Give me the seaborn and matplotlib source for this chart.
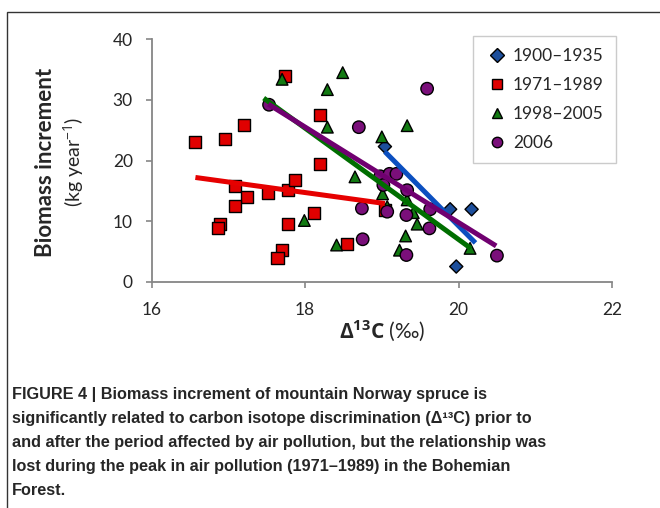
import numpy as np
import pandas as pd
import matplotlib
matplotlib.use("Agg")
import matplotlib.pyplot as plt
from matplotlib.patches import Rectangle
import seaborn as sns

# values (delta 13C in per mil, biomass increment in kg/year)
periods = ["1900\u20131935", "1971\u20131989", "1998\u20132005", "2006"]

x_1900 = [19.04, 19.89, 20.17, 19.97]
y_1900 = [22.3, 11.95, 11.95, 2.5]

x_1971 = [16.57, 16.96, 17.20, 17.09, 17.24, 17.09, 16.89, 16.86, 17.52, 17.78,
          17.87, 17.78, 17.70, 17.64, 17.74, 18.20, 18.20, 18.11, 18.54, 19.04]
y_1971 = [23.0, 23.5, 25.9, 15.85, 14.0, 12.5, 9.6, 8.8, 14.6, 15.1,
          16.8, 9.6, 5.2, 3.85, 33.9, 27.5, 19.5, 11.4, 6.2, 11.8]

x_1998 = [17.70, 18.29, 18.49, 18.29, 19.00, 19.33, 18.65, 17.99, 18.41,
          19.01, 19.07, 19.33, 19.41, 19.46, 19.31, 19.23, 20.15]
y_1998 = [33.4, 31.7, 34.5, 25.5, 23.9, 25.75, 17.3, 10.1, 6.05,
          14.5, 12.4, 13.5, 11.4, 9.5, 7.55, 5.2, 5.5]

x_2006 = [17.53, 18.70, 19.59, 18.98, 19.10, 19.19, 19.02, 19.33, 18.74, 19.07,
          19.32, 19.63, 19.62, 18.75, 19.32, 20.50]
y_2006 = [29.2, 25.5, 31.85, 17.4, 17.8, 17.8, 15.95, 15.1, 12.1, 11.55,
          11.0, 11.95, 8.8, 7.0, 4.4, 4.3]

# linear trend lines as drawn in the figure (start / end)
trend_x_1900 = [19.04, 20.22]
trend_y_1900 = [21.45, 6.4]
trend_x_1971 = [16.57, 19.04]
trend_y_1971 = [17.2, 12.9]
trend_x_1998 = [17.46, 20.16]
trend_y_1998 = [30.3, 5.5]
trend_x_2006 = [17.52, 20.49]
trend_y_2006 = [29.3, 5.9]

x_ticks = [16, 18, 20, 22]
y_ticks = [0, 10, 20, 30, 40]

caption = ("FIGURE 4 | Biomass increment of mountain Norway spruce is\n"
           "significantly related to carbon isotope discrimination (\u0394\u00b9\u00b3C) prior to\n"
           "and after the period affected by air pollution, but the relationship was\n"
           "lost during the peak in air pollution (1971\u20131989) in the Bohemian\n"
           "Forest.")

frames = []
for name, xs, ys in zip(periods, [x_1900, x_1971, x_1998, x_2006],
                        [y_1900, y_1971, y_1998, y_2006]):
    frames.append(pd.DataFrame({"d13c": xs, "biomass": ys, "period": name}))
df = pd.concat(frames, ignore_index=True)

trends = [(trend_x_1900, trend_y_1900), (trend_x_1971, trend_y_1971),
          (trend_x_1998, trend_y_1998), (trend_x_2006, trend_y_2006)]

marker_col = {periods[0]: "#1d4f9c", periods[1]: "#e00000",
              periods[2]: "#127a12", periods[3]: "#7a0f7a"}
line_col = {periods[0]: "#0b4fc0", periods[1]: "#e60000",
            periods[2]: "#006e00", periods[3]: "#700070"}
markers = {periods[0]: "D", periods[1]: "s", periods[2]: "^", periods[3]: "o"}
sizes = {periods[0]: 45, periods[1]: 75, periods[2]: 70, periods[3]: 80}

sns.set_style("ticks")
plt.rcParams["font.family"] = ["Lato", "DejaVu Sans"]
plt.rcParams["mathtext.fontset"] = "custom"
plt.rcParams["mathtext.rm"] = "Open Sans"
plt.rcParams["mathtext.bf"] = "Open Sans:bold"

fig = plt.figure(figsize=(6.6, 5.08), dpi=100)
ax = fig.add_axes([0.2298, 0.4455, 0.6975, 0.4771])

sns.scatterplot(data=df, x="d13c", y="biomass", hue="period", style="period",
                size="period", palette=marker_col, markers=markers, sizes=sizes,
                edgecolor="black", linewidth=1.0, alpha=1, ax=ax, zorder=2)

for name, (tx, ty) in zip(periods, trends):
    sns.lineplot(x=tx, y=ty, color=line_col[name], lw=3.6, zorder=3,
                 solid_capstyle="butt", legend=False, ax=ax)

ax.set_xlim(16, 22)
ax.set_ylim(0, 40)
ax.set_xticks(x_ticks)
ax.set_yticks(y_ticks)
ax.tick_params(axis="both", labelsize=12.5, color="#868686", width=1.2, length=4.5)
ax.tick_params(axis="x", pad=10)
ax.tick_params(axis="y", pad=9)
for side in ["top", "right"]:
    ax.spines[side].set_visible(False)
for side in ["left", "bottom"]:
    ax.spines[side].set_color("#868686")
    ax.spines[side].set_linewidth(1.3)

ax.set_xlabel(r"$\mathbf{\Delta^{13}C}$ (‰)", fontsize=15, labelpad=1)
ax.set_ylabel("")
fig.text(46 / 660, 1 - 162 / 508, "Biomass increment", rotation=90, fontsize=16,
         fontweight="bold", ha="center", va="center")
fig.text(74 / 660, 1 - 162 / 508, "(kg year$^{-1}$)", rotation=90, fontsize=14,
         ha="center", va="center")

handles, labels = ax.get_legend_handles_labels()
handles, labels = handles[:4], labels[:4]
for h in handles:
    h.set_markersize(7.5)
    h.set_markeredgewidth(1.0)
leg = ax.legend(handles, labels, loc="upper left", bbox_to_anchor=(0.698, 1.014),
                borderaxespad=0, frameon=True, fancybox=False, fontsize=12.5,
                handletextpad=0.2, labelspacing=0.75, borderpad=0.7,
                handlelength=1.4)
leg.get_frame().set_edgecolor("#bfbfbf")
leg.get_frame().set_linewidth(1.0)

fig.text(12 / 660, 1 - 387 / 508, caption, fontsize=11.7, fontweight="bold",
         family=["Liberation Sans Narrow", "Liberation Sans"], va="top", ha="left",
         linespacing=1.74)

fig.patches.append(Rectangle((7 / 660, -0.05), 1.2, 1 - 11.7 / 508 + 0.05,
                             transform=fig.transFigure, fill=False,
                             edgecolor="#333333", lw=1.0))

fig.savefig("out.png", dpi=100)
